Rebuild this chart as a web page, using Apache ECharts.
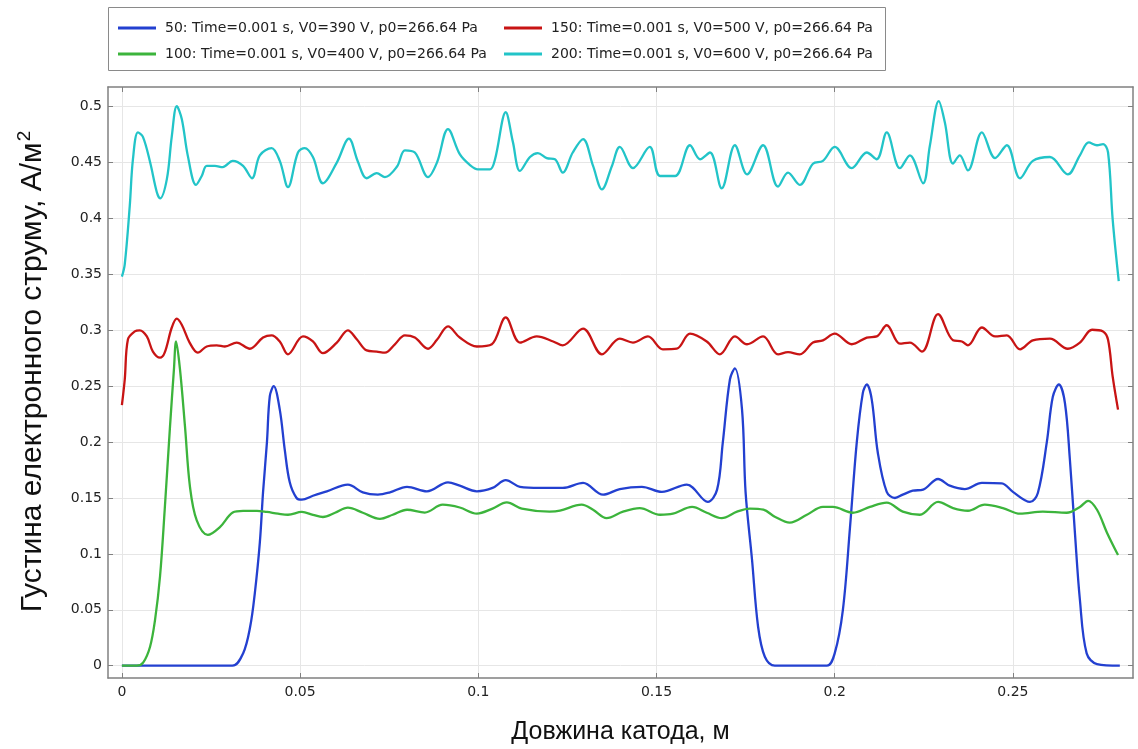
<!DOCTYPE html>
<html>
<head>
<meta charset="utf-8">
<script src="https://cdn.jsdelivr.net/npm/echarts@6/dist/echarts.min.js"></script>
<style>
  html, body { margin: 0; padding: 0; background: #fff; }
  #chart { width: 1138px; height: 749px; }
</style>
</head>
<body>
<div id="chart"></div>
<script>
// Electron current density along the cathode for four discharge voltages
const name50  = '50: Time=0.001 s, V0=390 V, p0=266.64 Pa';
const name100 = '100: Time=0.001 s, V0=400 V, p0=266.64 Pa';
const name150 = '150: Time=0.001 s, V0=500 V, p0=266.64 Pa';
const name200 = '200: Time=0.001 s, V0=600 V, p0=266.64 Pa';

const xTicks = [0, 0.05, 0.1, 0.15, 0.2, 0.25];
const yTicks = [0, 0.05, 0.1, 0.15, 0.2, 0.25, 0.3, 0.35, 0.4, 0.45, 0.5];

const x50 = [0,0.031,0.034,0.036,0.0373,0.0387,0.0396,0.0407,0.0415,0.0426,0.0443,0.0457,0.0471,0.049,0.0505,0.0536,0.0575,0.0634,0.0676,0.0718,0.0752,0.080,0.0856,0.0915,0.0948,0.0996,0.104,0.1077,0.1117,0.1173,0.1237,0.1294,0.135,0.1397,0.1459,0.1515,0.1585,0.1644,0.167,0.1686,0.1706,0.172,0.174,0.175,0.1768,0.1785,0.1804,0.1832,0.1978,0.200,0.2023,0.2043,0.2062,0.2079,0.209,0.2104,0.2121,0.2146,0.2169,0.2191,0.2219,0.2248,0.229,0.2323,0.2365,0.2413,0.2469,0.25,0.2548,0.257,0.2595,0.2612,0.2629,0.2646,0.266,0.2674,0.2688,0.2707,0.2736,0.280];
const y50 = [0,0,0.011,0.035,0.065,0.11,0.155,0.2,0.241,0.25,0.229,0.193,0.164,0.150,0.1485,0.152,0.156,0.162,0.155,0.153,0.155,0.160,0.156,0.164,0.161,0.156,0.159,0.166,0.160,0.159,0.159,0.1635,0.153,0.158,0.160,0.1555,0.162,0.1465,0.1575,0.1995,0.256,0.266,0.229,0.155,0.095,0.035,0.008,0,0,0.011,0.05,0.124,0.2,0.244,0.2515,0.238,0.1905,0.1555,0.150,0.153,0.1565,0.1575,0.167,0.161,0.158,0.1635,0.163,0.1555,0.1465,0.1545,0.1995,0.2405,0.2515,0.235,0.184,0.119,0.059,0.011,0.0015,0];

const x100 = [0,0.0042,0.006,0.0079,0.0093,0.0107,0.012,0.0135,0.0146,0.0152,0.0163,0.0177,0.0191,0.021,0.0241,0.0275,0.0311,0.034,0.0379,0.0407,0.0438,0.0466,0.0505,0.0536,0.0564,0.0598,0.0634,0.0676,0.0724,0.076,0.080,0.085,0.090,0.0948,0.0996,0.104,0.108,0.1122,0.120,0.1229,0.129,0.1322,0.136,0.1406,0.1453,0.151,0.1546,0.160,0.1641,0.1683,0.1726,0.1762,0.180,0.1832,0.1874,0.1922,0.1967,0.1995,0.2051,0.2099,0.2146,0.2191,0.2239,0.229,0.2332,0.2374,0.2421,0.2472,0.252,0.2584,0.2651,0.2688,0.2711,0.2736,0.2764,0.2795];
const y100 = [0,0,0.003,0.017,0.041,0.08,0.139,0.214,0.265,0.29,0.265,0.214,0.16,0.130,0.117,0.124,0.137,0.1385,0.1385,0.1375,0.136,0.135,0.1375,0.135,0.133,0.1368,0.1413,0.1368,0.1314,0.135,0.1395,0.137,0.144,0.1415,0.136,0.1405,0.146,0.1405,0.1378,0.1386,0.144,0.1395,0.132,0.1378,0.141,0.135,0.136,0.142,0.1368,0.132,0.1378,0.1405,0.1395,0.1333,0.128,0.135,0.142,0.142,0.1368,0.142,0.1458,0.1378,0.135,0.1465,0.141,0.1386,0.144,0.141,0.136,0.1378,0.1368,0.142,0.1475,0.1395,0.119,0.099];

const x150 = [0,0.0008,0.0017,0.0036,0.005,0.007,0.0087,0.0107,0.012,0.014,0.0154,0.0168,0.019,0.0213,0.0238,0.0266,0.0289,0.0322,0.0359,0.0396,0.042,0.0443,0.0466,0.0508,0.0536,0.0564,0.0603,0.0634,0.0659,0.0687,0.0715,0.0738,0.0766,0.0794,0.0822,0.0859,0.0884,0.0915,0.0948,0.0996,0.1038,0.1077,0.1117,0.1164,0.121,0.1237,0.1294,0.1347,0.1397,0.1434,0.1476,0.1518,0.1557,0.1594,0.1641,0.1678,0.172,0.1754,0.1799,0.1841,0.1869,0.1902,0.1939,0.1967,0.200,0.2048,0.209,0.2118,0.2146,0.2183,0.2211,0.2245,0.229,0.2332,0.2357,0.2374,0.2413,0.245,0.2483,0.252,0.2556,0.2604,0.2654,0.2688,0.2722,0.2753,0.2767,0.278,0.2795];
const y150 = [0.233,0.256,0.292,0.299,0.300,0.2945,0.281,0.2755,0.28,0.3025,0.3105,0.305,0.289,0.28,0.2855,0.2865,0.2855,0.289,0.2835,0.2935,0.2955,0.29,0.2785,0.2945,0.29,0.2795,0.289,0.300,0.292,0.282,0.281,0.280,0.2875,0.2955,0.2935,0.2835,0.2915,0.3035,0.2935,0.2855,0.2875,0.3115,0.289,0.2945,0.29,0.2865,0.3015,0.2785,0.2925,0.289,0.2945,0.283,0.2835,0.297,0.29,0.2785,0.2945,0.2875,0.2945,0.2785,0.2805,0.2785,0.289,0.291,0.297,0.2875,0.2935,0.2945,0.3045,0.288,0.289,0.281,0.3145,0.291,0.29,0.2865,0.3025,0.2945,0.2955,0.283,0.291,0.2925,0.2835,0.289,0.3005,0.299,0.2915,0.2585,0.229];

const x200 = [0,0.0008,0.0022,0.0031,0.0045,0.0059,0.0079,0.0098,0.0107,0.0126,0.014,0.0154,0.0168,0.0185,0.0208,0.0224,0.0238,0.0261,0.0283,0.0311,0.034,0.0365,0.0387,0.042,0.0443,0.0466,0.0494,0.0513,0.0536,0.0564,0.0603,0.0637,0.0662,0.0687,0.0715,0.0738,0.0772,0.0794,0.0822,0.0859,0.0884,0.0915,0.0948,0.0976,0.0999,0.1033,0.1047,0.1077,0.1097,0.1117,0.1145,0.1167,0.1192,0.1215,0.1237,0.1265,0.1294,0.1322,0.1347,0.1375,0.1397,0.1434,0.1481,0.151,0.1552,0.1594,0.1622,0.165,0.1683,0.172,0.1754,0.1799,0.1841,0.1869,0.1902,0.1939,0.1967,0.200,0.2048,0.209,0.2118,0.2146,0.2183,0.2211,0.2248,0.2267,0.2292,0.2309,0.2332,0.2351,0.2374,0.2413,0.245,0.2483,0.252,0.2556,0.2604,0.2654,0.2688,0.2713,0.2736,0.2753,0.2767,0.278,0.2797];
const y200 = [0.348,0.359,0.411,0.453,0.477,0.473,0.4505,0.4235,0.418,0.435,0.4735,0.5005,0.489,0.456,0.430,0.438,0.447,0.447,0.446,0.4515,0.447,0.436,0.4565,0.463,0.4515,0.428,0.459,0.463,0.455,0.4315,0.450,0.4715,0.451,0.436,0.4405,0.437,0.4465,0.461,0.459,0.437,0.450,0.480,0.4575,0.448,0.444,0.444,0.453,0.495,0.4685,0.4425,0.455,0.4585,0.454,0.453,0.441,0.459,0.471,0.447,0.426,0.447,0.464,0.445,0.464,0.438,0.438,0.4655,0.453,0.459,0.427,0.4655,0.4395,0.4655,0.4285,0.441,0.430,0.449,0.4515,0.464,0.445,0.459,0.453,0.477,0.445,0.4565,0.4315,0.465,0.505,0.486,0.449,0.4565,0.443,0.477,0.454,0.4655,0.436,0.4515,0.455,0.4395,0.4565,0.468,0.4655,0.4665,0.459,0.399,0.344];

const pairs = (xs, ys) => xs.slice(0, Math.min(xs.length, ys.length)).map((x, i) => [x, ys[i]]);

const X_MIN = -0.0039, X_MAX = 0.2837;
const Y_MIN = -0.011, Y_MAX = 0.5176;

const AXIS_COLOR = '#808080';
const GRID_COLOR = '#e6e6e6';
const tickFmt = v => String(+(+v).toFixed(3));

const chart = echarts.init(document.getElementById('chart'), null, { renderer: 'canvas' });

const line = (name, data, color) => ({
  name, type: 'line', data,
  xAxisIndex: 0, yAxisIndex: 0,
  showSymbol: false, smooth: 0.35,
  lineStyle: { color, width: 2.3 },
  itemStyle: { color },
  emphasis: { disabled: true },
  animation: false
});

const legendBase = {
  orient: 'vertical', top: 20, padding: 0,
  icon: 'rect', itemWidth: 38, itemHeight: 3, itemGap: 10,
  textStyle: { fontFamily: 'DejaVu Sans', fontSize: 14, color: '#222', lineHeight: 16, padding: [0, 0, 0, 4] },
  selectedMode: false
};

chart.setOption({
  backgroundColor: '#fff',
  animation: false,
  grid: { left: 108, right: 5, top: 87, bottom: 71, containLabel: false, outerBoundsMode: 'none' },
  graphic: [{
    type: 'rect', left: 108, top: 7, z: -1,
    shape: { width: 777, height: 63 },
    style: { fill: '#fff', stroke: '#8a8a8a', lineWidth: 1 }
  }],
  legend: [
    Object.assign({}, legendBase, { left: 118, data: [name50, name100] }),
    Object.assign({}, legendBase, { left: 504, data: [name150, name200] })
  ],
  xAxis: [{
    type: 'value', min: X_MIN, max: X_MAX, position: 'bottom',
    name: 'Довжина катода, м', nameLocation: 'middle', nameGap: 42,
    nameTextStyle: { fontFamily: 'Liberation Sans', fontSize: 25, color: '#111' },
    axisLine: { show: true, onZero: false, lineStyle: { color: AXIS_COLOR, width: 1.5 } },
    axisTick: { show: true, inside: true, length: 5, customValues: xTicks, lineStyle: { color: AXIS_COLOR } },
    axisLabel: { customValues: xTicks, formatter: tickFmt, margin: 7, fontFamily: 'DejaVu Sans', fontSize: 14, color: '#222' },
    splitLine: { show: true, lineStyle: { color: GRID_COLOR, width: 1 } }
  }, {
    type: 'value', min: X_MIN, max: X_MAX, position: 'top',
    axisLine: { show: true, onZero: false, lineStyle: { color: AXIS_COLOR, width: 1.5 } },
    axisTick: { show: true, inside: true, length: 5, customValues: xTicks, lineStyle: { color: AXIS_COLOR } },
    axisLabel: { show: false },
    splitLine: { show: false }
  }],
  yAxis: [{
    type: 'value', min: Y_MIN, max: Y_MAX, position: 'left',
    name: 'Густина електронного струму, А/м{sup|2}', nameLocation: 'middle', nameGap: 58, nameRotate: 90,
    nameTextStyle: {
      fontFamily: 'Liberation Sans', fontSize: 30, color: '#111', padding: [0, 0, 0, 22],
      rich: { sup: { fontFamily: 'Liberation Sans', fontSize: 19, color: '#111', padding: [0, 0, 16, 1] } }
    },
    axisLine: { show: true, onZero: false, lineStyle: { color: AXIS_COLOR, width: 1.5 } },
    axisTick: { show: true, inside: true, length: 5, customValues: yTicks, lineStyle: { color: AXIS_COLOR } },
    axisLabel: { customValues: yTicks, formatter: tickFmt, margin: 6, fontFamily: 'DejaVu Sans', fontSize: 14, color: '#222' },
    splitLine: { show: true, lineStyle: { color: GRID_COLOR, width: 1 } }
  }, {
    type: 'value', min: Y_MIN, max: Y_MAX, position: 'right',
    axisLine: { show: true, onZero: false, lineStyle: { color: AXIS_COLOR, width: 1.5 } },
    axisTick: { show: true, inside: true, length: 5, customValues: yTicks, lineStyle: { color: AXIS_COLOR } },
    axisLabel: { show: false },
    splitLine: { show: false }
  }],
  series: [
    line(name50, pairs(x50, y50), '#2340d0'),
    line(name100, pairs(x100, y100), '#3cb43c'),
    line(name150, pairs(x150, y150), '#c81414'),
    line(name200, pairs(x200, y200), '#22c4c8')
  ]
});
</script>
</body>
</html>
